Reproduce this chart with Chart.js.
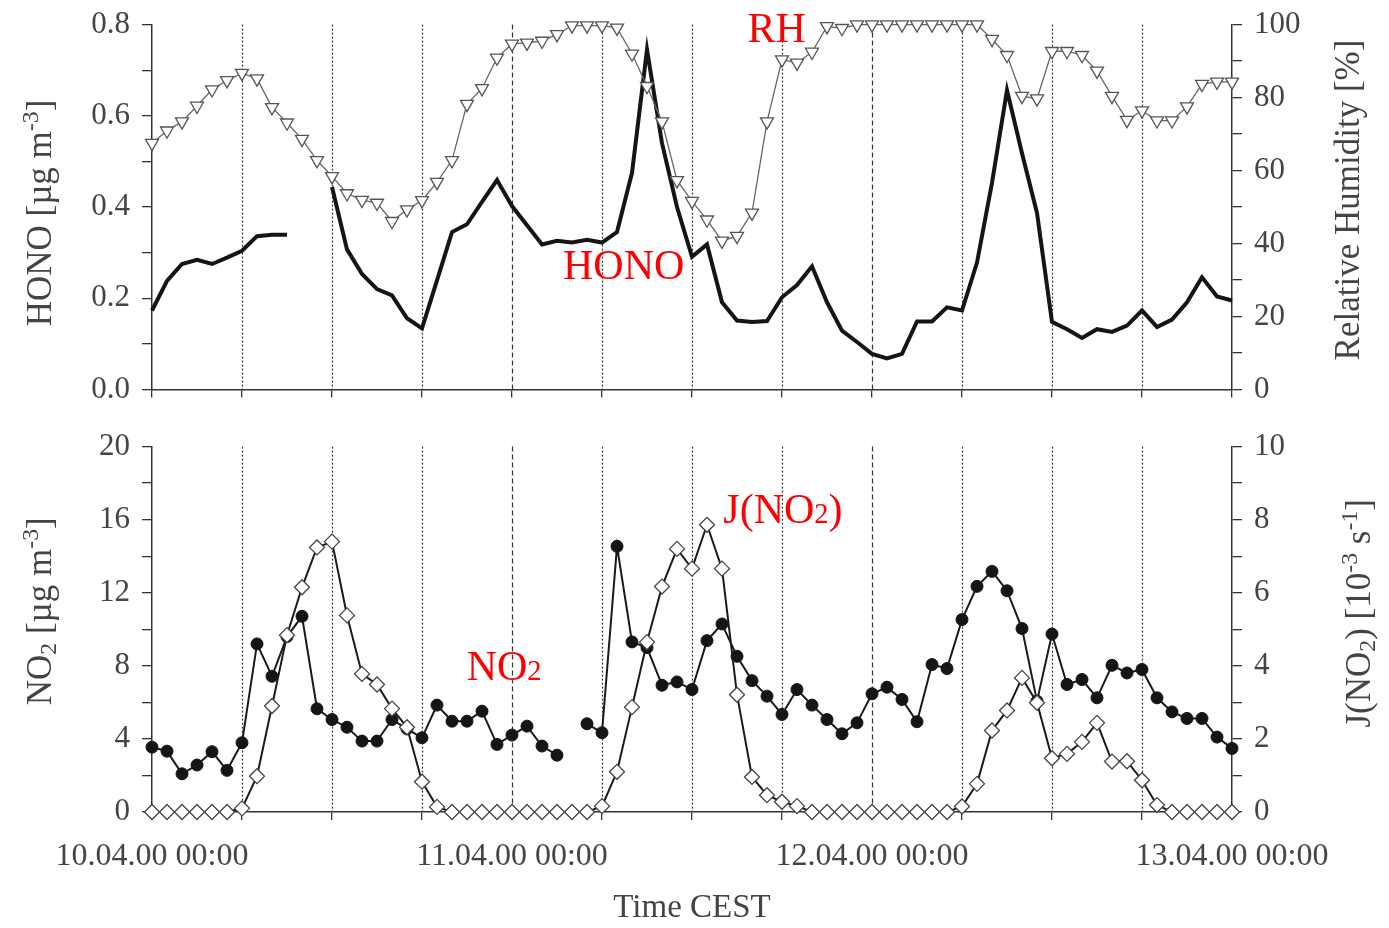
<!DOCTYPE html>
<html>
<head>
<meta charset="utf-8">
<script src="https://cdn.jsdelivr.net/npm/chart.js@4.4.1/dist/chart.umd.min.js"></script>
<style>
  html, body { margin: 0; padding: 0; background: #fff; overflow: hidden; }
  #wrap { position: relative; width: 1389px; height: 928px; overflow: hidden; }
  #topChart { position: absolute; left: 0; top: -6px; }
  #botChart { position: absolute; left: 0; top: 416px; }
</style>
</head>
<body>
<div id="wrap">
  <canvas id="topChart" width="1389" height="426"></canvas>
  <canvas id="botChart" width="1389" height="512"></canvas>
</div>
<script>
// hourly time axis, 10.04.00 00:00 -> 13.04.00 00:00
const hours = Array.from({ length: 73 }, (_, i) => i);
const dayLabels = ['10.04.00 00:00', '11.04.00 00:00', '12.04.00 00:00', '13.04.00 00:00'];

// tick labels
const honoTickLabels = ['0.0', '0.2', '0.4', '0.6', '0.8'];
const rhTickLabels = ['0', '20', '40', '60', '80', '100'];
const no2TickLabels = ['0', '4', '8', '12', '16', '20'];
const jTickLabels = ['0', '2', '4', '6', '8', '10'];

// HONO [ug m-3]
const hono = [
  0.173, 0.238, 0.275, 0.284, 0.275, 0.289, 0.304, 0.336, 0.339, 0.339,
  null, null, 0.444, 0.307, 0.253, 0.220, 0.206, 0.156, 0.134, 0.239,
  0.345, 0.362, 0.411, 0.459, 0.402, 0.360, 0.318, 0.326, 0.322, 0.328,
  0.322, 0.345, 0.475, 0.745, 0.54, 0.40, 0.291, 0.318, 0.191, 0.151,
  0.148, 0.150, 0.202, 0.229, 0.270, 0.191, 0.129, 0.104, 0.078, 0.068,
  0.078, 0.149, 0.149, 0.180, 0.173, 0.278, 0.453, 0.656, 0.518, 0.387,
  0.148, 0.132, 0.113, 0.132, 0.126, 0.140, 0.173, 0.137, 0.153, 0.191,
  0.246, 0.204, 0.195
];

// relative humidity [%]
const rh = [
  67.5, 70.9, 73.4, 77.7, 82.2, 84.7, 86.7, 85.2, 77.3, 73.1,
  68.6, 62.8, 58.4, 53.7, 51.9, 51.1, 46.1, 49.3, 51.8, 56.8,
  62.8, 78.2, 82.5, 90.9, 94.7, 95.0, 95.5, 97.3, 99.7, 99.7,
  99.7, 99.1, 92.0, 83.1, 73.4, 57.3, 51.6, 46.5, 40.7, 42.0,
  48.4, 73.4, 90.4, 89.5, 92.5, 99.5, 99.0, 100, 100, 100,
  100, 100, 100, 100, 100, 100, 96.0, 91.6, 80.4, 79.7,
  92.7, 92.7, 91.6, 87.3, 80.4, 73.8, 76.4, 73.7, 73.7, 77.5,
  83.7, 84.3, 84.3
];

// NO2 [ug m-3]
const no2 = [
  3.55, 3.33, 2.09, 2.57, 3.30, 2.28, 3.79, 9.20, 7.43, 9.6,
  10.71, 5.65, 5.06, 4.64, 3.88, 3.88, 5.06, 4.55, 4.06, 5.85,
  4.97, 4.97, 5.52, 3.70, 4.21, 4.70, 3.61, 3.11, null, 4.83,
  4.34, 14.54, 9.31, 9.0, 6.94, 7.12, 6.70, 9.38, 10.29, 8.52,
  7.19, 6.34, 5.34, 6.70, 5.85, 5.06, 4.28, 4.88, 6.47, 6.83,
  6.16, 4.94, 8.07, 7.85, 10.53, 12.35, 13.17, 12.11, 10.04, 6.07,
  9.74, 6.98, 7.25, 6.25, 8.03, 7.61, 7.80, 6.25, 5.48, 5.12,
  5.12, 4.10, 3.48
];

// J(NO2) [10-3 s-1]
const jno2 = [
  0, 0, 0, 0, 0, 0, 0.1, 0.98, 2.90, 4.84,
  6.15, 7.24, 7.40, 5.38, 3.78, 3.49, 2.83, 2.32, 0.83, 0.14,
  0, 0, 0, 0, 0, 0, 0, 0, 0, 0,
  0.16, 1.10, 2.87, 4.65, 6.17, 7.20, 6.66, 7.86, 6.66, 3.21,
  0.96, 0.46, 0.28, 0.16, 0, 0, 0, 0, 0, 0,
  0, 0, 0, 0, 0.15, 0.77, 2.23, 2.78, 3.67, 2.99,
  1.47, 1.59, 1.92, 2.44, 1.38, 1.39, 0.87, 0.19, 0, 0,
  0, 0, 0
];

const FONT = '"Liberation Serif", "Times New Roman", serif';
const AXIS = '#333';
const TXT = '#444';

const toXY = arr => hours.map((h, i) => ({ x: h, y: arr[i] }));

// text with sub/superscripts
function partsWidth(ctx, parts, size) {
  let w = 0;
  parts.forEach(p => {
    ctx.font = (p.s ? size * 0.68 : size) + 'px ' + FONT;
    w += ctx.measureText(p.t).width;
  });
  return w;
}
function drawParts(ctx, parts, x0, base, size) {
  parts.forEach(p => {
    ctx.font = (p.s ? size * 0.68 : size) + 'px ' + FONT;
    const dy = p.s === 'sup' ? -size * 0.36 : p.s === 'sub' ? size * 0.16 : 0;
    ctx.fillText(p.t, x0, base + dy);
    x0 += ctx.measureText(p.t).width;
  });
}
function drawVertical(ctx, parts, cx, cy, size, color) {
  ctx.save();
  ctx.translate(cx, cy);
  ctx.rotate(-Math.PI / 2);
  ctx.fillStyle = color;
  ctx.textBaseline = 'alphabetic';
  const w = partsWidth(ctx, parts, size);
  drawParts(ctx, parts, -w / 2, size * 0.33, size);
  ctx.restore();
}

// dotted lines every 6 h
const sixHourLines = {
  id: 'sixHourLines',
  beforeDatasetsDraw(chart) {
    const { ctx, chartArea, scales: { x } } = chart;
    ctx.save();
    ctx.strokeStyle = '#333';
    ctx.lineWidth = 1.2;
    x.ticks.forEach(t => {
      if (t.value <= x.min || t.value >= x.max) return;
      const px = Math.round(x.getPixelForValue(t.value)) + 0.5;
      ctx.setLineDash(t.value % 24 === 0 ? [5, 3] : [2, 2]);
      ctx.beginPath();
      ctx.moveTo(px, chartArea.top);
      ctx.lineTo(px, chartArea.bottom);
      ctx.stroke();
    });
    ctx.restore();
  }
};

// axis titles and red series labels
const annotate = {
  id: 'annotate',
  afterDraw(chart, args, opts) {
    const { ctx, chartArea } = chart;
    const mid = (chartArea.top + chartArea.bottom) / 2;
    drawVertical(ctx, opts.left, 39, mid + opts.leftDy, 35, TXT);
    drawVertical(ctx, opts.right, chart.width - opts.rightDx, mid + opts.rightDy, 35, TXT);
    ctx.save();
    ctx.fillStyle = '#ff0000';
    ctx.textBaseline = 'alphabetic';
    opts.labels.forEach(l => {
      const px = chart.scales.x.getPixelForValue(l.x);
      const py = chart.scales[l.axis].getPixelForValue(l.y);
      drawParts(ctx, l.parts, px, py, 42);
    });
    ctx.restore();
  }
};

function yScale(pos, max, step, labels, width) {
  return {
    type: 'linear',
    position: pos,
    min: 0,
    max: max,
    afterFit: s => { s.width = width; },
    ticks: {
      stepSize: step,
      autoSkip: false,
      padding: 12,
      color: TXT,
      font: { family: FONT, size: 31 },
      callback: (v, i) => (i % 2 === 0 ? labels[i / 2] : '')
    },
    grid: { drawOnChartArea: false, tickLength: 10, color: AXIS, lineWidth: 1.3 },
    border: { color: AXIS, width: 1.5 }
  };
}

function xScale(height, showLabels) {
  return {
    type: 'linear',
    position: 'bottom',
    min: 0,
    max: 72,
    afterFit: s => { s.height = height; },
    ticks: {
      stepSize: 6,
      autoSkip: false,
      maxRotation: 0,
      padding: 17,
      color: TXT,
      font: { family: FONT, size: 32 },
      callback: v => (showLabels && v % 24 === 0 ? dayLabels[v / 24] : '')
    },
    title: {
      display: showLabels,
      text: 'Time CEST',
      color: TXT,
      font: { family: FONT, size: 33 },
      padding: { top: 0, bottom: 0 }
    },
    grid: { drawOnChartArea: false, tickLength: 8, color: AXIS, lineWidth: 1.3 },
    border: { color: AXIS, width: 1.5 }
  };
}

const topChart = new Chart(document.getElementById('topChart'), {
  type: 'line',
  data: {
    datasets: [
      {
        label: 'RH',
        data: toXY(rh),
        yAxisID: 'yR',
        borderColor: '#666',
        borderWidth: 1.3,
        pointStyle: 'triangle',
        pointRotation: 180,
        pointRadius: 7.5,
        pointBackgroundColor: '#fff',
        pointBorderColor: '#555',
        pointBorderWidth: 1.3,
        clip: false,
        order: 0
      },
      {
        label: 'HONO',
        data: toXY(hono),
        yAxisID: 'yL',
        borderColor: '#151515',
        borderWidth: 4,
        pointRadius: 0,
        spanGaps: false,
        clip: false,
        order: 1
      }
    ]
  },
  options: {
    responsive: false,
    animation: false,
    layout: { padding: { top: 19, left: 0, right: 0, bottom: 0 } },
    plugins: {
      legend: { display: false },
      tooltip: { enabled: false },
      annotate: {
        left: [{ t: 'HONO [µg m' }, { t: '-3', s: 'sup' }, { t: ']' }],
        leftDy: 6,
        right: [{ t: 'Relative Humidity [%]' }],
        rightDx: 42,
        rightDy: -7,
        labels: [
          { parts: [{ t: 'RH' }], x: 39.7, y: 95.1, axis: 'yR' },
          { parts: [{ t: 'HONO' }], x: 27.4, y: 0.243, axis: 'yL' }
        ]
      }
    },
    scales: {
      x: xScale(28, false),
      yL: yScale('left', 0.8, 0.1, honoTickLabels, 152),
      yR: yScale('right', 100, 10, rhTickLabels, 157)
    }
  },
  plugins: [sixHourLines, annotate]
});

const botChart = new Chart(document.getElementById('botChart'), {
  type: 'line',
  data: {
    datasets: [
      {
        label: 'J(NO2)',
        data: toXY(jno2),
        yAxisID: 'yR',
        borderColor: '#1a1a1a',
        borderWidth: 2,
        pointStyle: 'rectRot',
        pointRadius: 7.5,
        pointBackgroundColor: '#fff',
        pointBorderColor: '#444',
        pointBorderWidth: 1.3,
        clip: false,
        order: 0
      },
      {
        label: 'NO2',
        data: toXY(no2),
        yAxisID: 'yL',
        borderColor: '#1a1a1a',
        borderWidth: 2,
        pointStyle: 'circle',
        pointRadius: 6,
        pointBackgroundColor: '#151515',
        pointBorderColor: '#151515',
        pointBorderWidth: 1,
        spanGaps: false,
        clip: false,
        order: 1
      }
    ]
  },
  options: {
    responsive: false,
    animation: false,
    layout: { padding: { top: 22, left: 0, right: 0, bottom: 0 } },
    plugins: {
      legend: { display: false },
      tooltip: { enabled: false },
      annotate: {
        left: [{ t: 'NO' }, { t: '2', s: 'sub' }, { t: ' [µg m' }, { t: '-3', s: 'sup' }, { t: ']' }],
        leftDy: -18,
        right: [{ t: 'J(NO' }, { t: '2', s: 'sub' }, { t: ') [10' }, { t: '-3', s: 'sup' }, { t: ' s' }, { t: '-1', s: 'sup' }, { t: ']' }],
        rightDx: 31,
        rightDy: -16,
        labels: [
          { parts: [{ t: 'NO' }, { t: '2', s: 'small' }], x: 20.98, y: 7.23, axis: 'yL' },
          { parts: [{ t: 'J(NO' }, { t: '2', s: 'small' }, { t: ')' }], x: 38.09, y: 7.91, axis: 'yR' }
        ]
      }
    },
    scales: {
      x: xScale(116, true),
      yL: yScale('left', 20, 2, no2TickLabels, 152),
      yR: yScale('right', 10, 1, jTickLabels, 157)
    }
  },
  plugins: [sixHourLines, annotate]
});
</script>
</body>
</html>
